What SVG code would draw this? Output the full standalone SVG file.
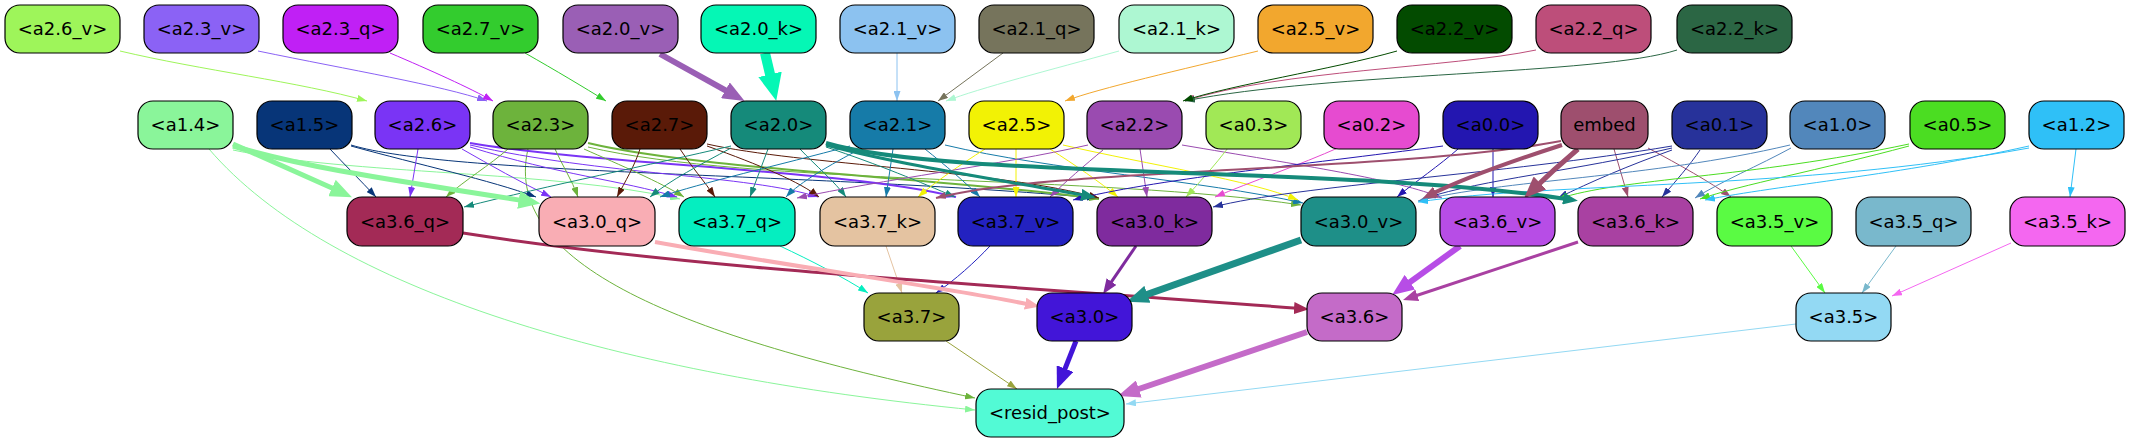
<svg xmlns="http://www.w3.org/2000/svg" width="2131" height="443" viewBox="0 0 2131 443">
<style>
.n rect{stroke:#000;stroke-width:1.2}
.n text{font-family:"DejaVu Sans","Liberation Sans",sans-serif;font-size:18px;text-anchor:middle;fill:#000}
.e path{fill:none}
</style>
<defs>
<marker id="s-a26v" viewBox="0 0 10 7" refX="10" refY="3.5" markerWidth="10" markerHeight="7" markerUnits="userSpaceOnUse" orient="auto"><path d="M0,0L10,3.5L0,7z" fill="#9ef55a"/></marker>
<marker id="s-a23v" viewBox="0 0 10 7" refX="10" refY="3.5" markerWidth="10" markerHeight="7" markerUnits="userSpaceOnUse" orient="auto"><path d="M0,0L10,3.5L0,7z" fill="#8b62f5"/></marker>
<marker id="s-a23q" viewBox="0 0 10 7" refX="10" refY="3.5" markerWidth="10" markerHeight="7" markerUnits="userSpaceOnUse" orient="auto"><path d="M0,0L10,3.5L0,7z" fill="#c020f5"/></marker>
<marker id="s-a27v" viewBox="0 0 10 7" refX="10" refY="3.5" markerWidth="10" markerHeight="7" markerUnits="userSpaceOnUse" orient="auto"><path d="M0,0L10,3.5L0,7z" fill="#33cc2e"/></marker>
<marker id="s-a21v" viewBox="0 0 10 7" refX="10" refY="3.5" markerWidth="10" markerHeight="7" markerUnits="userSpaceOnUse" orient="auto"><path d="M0,0L10,3.5L0,7z" fill="#8cc2f0"/></marker>
<marker id="s-a21q" viewBox="0 0 10 7" refX="10" refY="3.5" markerWidth="10" markerHeight="7" markerUnits="userSpaceOnUse" orient="auto"><path d="M0,0L10,3.5L0,7z" fill="#76745c"/></marker>
<marker id="s-a21k" viewBox="0 0 10 7" refX="10" refY="3.5" markerWidth="10" markerHeight="7" markerUnits="userSpaceOnUse" orient="auto"><path d="M0,0L10,3.5L0,7z" fill="#adf7d2"/></marker>
<marker id="s-a25v" viewBox="0 0 10 7" refX="10" refY="3.5" markerWidth="10" markerHeight="7" markerUnits="userSpaceOnUse" orient="auto"><path d="M0,0L10,3.5L0,7z" fill="#f2a72e"/></marker>
<marker id="s-a22v" viewBox="0 0 10 7" refX="10" refY="3.5" markerWidth="10" markerHeight="7" markerUnits="userSpaceOnUse" orient="auto"><path d="M0,0L10,3.5L0,7z" fill="#034b00"/></marker>
<marker id="s-a22q" viewBox="0 0 10 7" refX="10" refY="3.5" markerWidth="10" markerHeight="7" markerUnits="userSpaceOnUse" orient="auto"><path d="M0,0L10,3.5L0,7z" fill="#bd4e7a"/></marker>
<marker id="s-a22k" viewBox="0 0 10 7" refX="10" refY="3.5" markerWidth="10" markerHeight="7" markerUnits="userSpaceOnUse" orient="auto"><path d="M0,0L10,3.5L0,7z" fill="#2b6644"/></marker>
<marker id="s-a14" viewBox="0 0 10 7" refX="10" refY="3.5" markerWidth="10" markerHeight="7" markerUnits="userSpaceOnUse" orient="auto"><path d="M0,0L10,3.5L0,7z" fill="#8af59a"/></marker>
<marker id="s-a15" viewBox="0 0 10 7" refX="10" refY="3.5" markerWidth="10" markerHeight="7" markerUnits="userSpaceOnUse" orient="auto"><path d="M0,0L10,3.5L0,7z" fill="#073578"/></marker>
<marker id="s-a26" viewBox="0 0 10 7" refX="10" refY="3.5" markerWidth="10" markerHeight="7" markerUnits="userSpaceOnUse" orient="auto"><path d="M0,0L10,3.5L0,7z" fill="#7a34f5"/></marker>
<marker id="s-a23" viewBox="0 0 10 7" refX="10" refY="3.5" markerWidth="10" markerHeight="7" markerUnits="userSpaceOnUse" orient="auto"><path d="M0,0L10,3.5L0,7z" fill="#6db33c"/></marker>
<marker id="s-a27" viewBox="0 0 10 7" refX="10" refY="3.5" markerWidth="10" markerHeight="7" markerUnits="userSpaceOnUse" orient="auto"><path d="M0,0L10,3.5L0,7z" fill="#5a1a08"/></marker>
<marker id="s-a20" viewBox="0 0 10 7" refX="10" refY="3.5" markerWidth="10" markerHeight="7" markerUnits="userSpaceOnUse" orient="auto"><path d="M0,0L10,3.5L0,7z" fill="#158a7a"/></marker>
<marker id="s-a21" viewBox="0 0 10 7" refX="10" refY="3.5" markerWidth="10" markerHeight="7" markerUnits="userSpaceOnUse" orient="auto"><path d="M0,0L10,3.5L0,7z" fill="#167ba8"/></marker>
<marker id="s-a25" viewBox="0 0 10 7" refX="10" refY="3.5" markerWidth="10" markerHeight="7" markerUnits="userSpaceOnUse" orient="auto"><path d="M0,0L10,3.5L0,7z" fill="#f2f205"/></marker>
<marker id="s-a22" viewBox="0 0 10 7" refX="10" refY="3.5" markerWidth="10" markerHeight="7" markerUnits="userSpaceOnUse" orient="auto"><path d="M0,0L10,3.5L0,7z" fill="#9a4bb0"/></marker>
<marker id="s-a03" viewBox="0 0 10 7" refX="10" refY="3.5" markerWidth="10" markerHeight="7" markerUnits="userSpaceOnUse" orient="auto"><path d="M0,0L10,3.5L0,7z" fill="#a1e856"/></marker>
<marker id="s-a02" viewBox="0 0 10 7" refX="10" refY="3.5" markerWidth="10" markerHeight="7" markerUnits="userSpaceOnUse" orient="auto"><path d="M0,0L10,3.5L0,7z" fill="#e64bd0"/></marker>
<marker id="s-a00" viewBox="0 0 10 7" refX="10" refY="3.5" markerWidth="10" markerHeight="7" markerUnits="userSpaceOnUse" orient="auto"><path d="M0,0L10,3.5L0,7z" fill="#2316b0"/></marker>
<marker id="s-em" viewBox="0 0 10 7" refX="10" refY="3.5" markerWidth="10" markerHeight="7" markerUnits="userSpaceOnUse" orient="auto"><path d="M0,0L10,3.5L0,7z" fill="#9e4f6e"/></marker>
<marker id="s-a01" viewBox="0 0 10 7" refX="10" refY="3.5" markerWidth="10" markerHeight="7" markerUnits="userSpaceOnUse" orient="auto"><path d="M0,0L10,3.5L0,7z" fill="#27329a"/></marker>
<marker id="s-a10" viewBox="0 0 10 7" refX="10" refY="3.5" markerWidth="10" markerHeight="7" markerUnits="userSpaceOnUse" orient="auto"><path d="M0,0L10,3.5L0,7z" fill="#5287bb"/></marker>
<marker id="s-a05" viewBox="0 0 10 7" refX="10" refY="3.5" markerWidth="10" markerHeight="7" markerUnits="userSpaceOnUse" orient="auto"><path d="M0,0L10,3.5L0,7z" fill="#4bdd22"/></marker>
<marker id="s-a12" viewBox="0 0 10 7" refX="10" refY="3.5" markerWidth="10" markerHeight="7" markerUnits="userSpaceOnUse" orient="auto"><path d="M0,0L10,3.5L0,7z" fill="#2fc0f7"/></marker>
<marker id="s-a37q" viewBox="0 0 10 7" refX="10" refY="3.5" markerWidth="10" markerHeight="7" markerUnits="userSpaceOnUse" orient="auto"><path d="M0,0L10,3.5L0,7z" fill="#05eec0"/></marker>
<marker id="s-a37k" viewBox="0 0 10 7" refX="10" refY="3.5" markerWidth="10" markerHeight="7" markerUnits="userSpaceOnUse" orient="auto"><path d="M0,0L10,3.5L0,7z" fill="#e4c3a1"/></marker>
<marker id="s-a37v" viewBox="0 0 10 7" refX="10" refY="3.5" markerWidth="10" markerHeight="7" markerUnits="userSpaceOnUse" orient="auto"><path d="M0,0L10,3.5L0,7z" fill="#2322c0"/></marker>
<marker id="s-a35v" viewBox="0 0 10 7" refX="10" refY="3.5" markerWidth="10" markerHeight="7" markerUnits="userSpaceOnUse" orient="auto"><path d="M0,0L10,3.5L0,7z" fill="#5afb43"/></marker>
<marker id="s-a35q" viewBox="0 0 10 7" refX="10" refY="3.5" markerWidth="10" markerHeight="7" markerUnits="userSpaceOnUse" orient="auto"><path d="M0,0L10,3.5L0,7z" fill="#79b8cc"/></marker>
<marker id="s-a35k" viewBox="0 0 10 7" refX="10" refY="3.5" markerWidth="10" markerHeight="7" markerUnits="userSpaceOnUse" orient="auto"><path d="M0,0L10,3.5L0,7z" fill="#f467f0"/></marker>
<marker id="s-a37" viewBox="0 0 10 7" refX="10" refY="3.5" markerWidth="10" markerHeight="7" markerUnits="userSpaceOnUse" orient="auto"><path d="M0,0L10,3.5L0,7z" fill="#99a33c"/></marker>
<marker id="s-a35" viewBox="0 0 10 7" refX="10" refY="3.5" markerWidth="10" markerHeight="7" markerUnits="userSpaceOnUse" orient="auto"><path d="M0,0L10,3.5L0,7z" fill="#93d9f3"/></marker>
<marker id="m-a20" viewBox="0 0 15 12" refX="7" refY="6" markerWidth="15" markerHeight="12" markerUnits="userSpaceOnUse" orient="auto"><path d="M0,0L15,6L0,12z" fill="#158a7a"/></marker>
<marker id="m-em" viewBox="0 0 15 12" refX="7" refY="6" markerWidth="15" markerHeight="12" markerUnits="userSpaceOnUse" orient="auto"><path d="M0,0L15,6L0,12z" fill="#9e4f6e"/></marker>
<marker id="m-a30q" viewBox="0 0 15 12" refX="7" refY="6" markerWidth="15" markerHeight="12" markerUnits="userSpaceOnUse" orient="auto"><path d="M0,0L15,6L0,12z" fill="#f9adb4"/></marker>
<marker id="m-a30k" viewBox="0 0 15 12" refX="7" refY="6" markerWidth="15" markerHeight="12" markerUnits="userSpaceOnUse" orient="auto"><path d="M0,0L15,6L0,12z" fill="#7f2b9e"/></marker>
<marker id="m-a36q" viewBox="0 0 15 12" refX="7" refY="6" markerWidth="15" markerHeight="12" markerUnits="userSpaceOnUse" orient="auto"><path d="M0,0L15,6L0,12z" fill="#a32a56"/></marker>
<marker id="m-a36k" viewBox="0 0 15 12" refX="7" refY="6" markerWidth="15" markerHeight="12" markerUnits="userSpaceOnUse" orient="auto"><path d="M0,0L15,6L0,12z" fill="#a941a2"/></marker>
<marker id="l-a20v" viewBox="0 0 22 18" refX="11" refY="9" markerWidth="22" markerHeight="18" markerUnits="userSpaceOnUse" orient="auto"><path d="M0,0L22,9L0,18z" fill="#9a5fb5"/></marker>
<marker id="l-a14" viewBox="0 0 22 18" refX="11" refY="9" markerWidth="22" markerHeight="18" markerUnits="userSpaceOnUse" orient="auto"><path d="M0,0L22,9L0,18z" fill="#8af59a"/></marker>
<marker id="l-em" viewBox="0 0 22 18" refX="11" refY="9" markerWidth="22" markerHeight="18" markerUnits="userSpaceOnUse" orient="auto"><path d="M0,0L22,9L0,18z" fill="#9e4f6e"/></marker>
<marker id="l-a30v" viewBox="0 0 22 18" refX="11" refY="9" markerWidth="22" markerHeight="18" markerUnits="userSpaceOnUse" orient="auto"><path d="M0,0L22,9L0,18z" fill="#1e8f88"/></marker>
<marker id="l-a36v" viewBox="0 0 22 18" refX="11" refY="9" markerWidth="22" markerHeight="18" markerUnits="userSpaceOnUse" orient="auto"><path d="M0,0L22,9L0,18z" fill="#b74de6"/></marker>
<marker id="l-a30" viewBox="0 0 22 18" refX="11" refY="9" markerWidth="22" markerHeight="18" markerUnits="userSpaceOnUse" orient="auto"><path d="M0,0L22,9L0,18z" fill="#4215d8"/></marker>
<marker id="l-a36" viewBox="0 0 22 18" refX="11" refY="9" markerWidth="22" markerHeight="18" markerUnits="userSpaceOnUse" orient="auto"><path d="M0,0L22,9L0,18z" fill="#c46bc8"/></marker>
<marker id="x-a20k" viewBox="0 0 27 24" refX="13" refY="12" markerWidth="27" markerHeight="24" markerUnits="userSpaceOnUse" orient="auto"><path d="M0,0L27,12L0,24z" fill="#05f7b5"/></marker>
</defs>
<rect width="2131" height="443" fill="#ffffff"/>
<g id="connectors" class="e" stroke-width="1">
<path d="M120,51 C200,70 300,82 367,101" stroke="#9ef55a" marker-end="url(#s-a26v)"/>
<path d="M258,51 C350,70 440,85 487,101" stroke="#8b62f5" marker-end="url(#s-a23v)"/>
<path d="M390,53 C430,70 470,88 493,101" stroke="#c020f5" marker-end="url(#s-a23q)"/>
<path d="M525,53 C555,70 585,88 606,101" stroke="#33cc2e" marker-end="url(#s-a27v)"/>
<path d="M660,54 L735,95.6" stroke="#9a5fb5" stroke-width="6" marker-end="url(#l-a20v)"/>
<path d="M765,53 L773,87" stroke="#05f7b5" stroke-width="10" marker-end="url(#x-a20k)"/>
<path d="M897,53 L897,101" stroke="#8cc2f0" marker-end="url(#s-a21v)"/>
<path d="M1003,53 L938,101" stroke="#76745c" marker-end="url(#s-a21q)"/>
<path d="M1119,51 C1050,70 980,88 946,101" stroke="#adf7d2" marker-end="url(#s-a21k)"/>
<path d="M1258,51 C1180,70 1100,88 1065,101" stroke="#f2a72e" marker-end="url(#s-a25v)"/>
<path d="M1536,50 C1450,68 1280,70 1185,101" stroke="#bd4e7a" marker-end="url(#s-a22q)"/>
<path d="M1677,50 C1600,75 1330,72 1185,101" stroke="#2b6644" marker-end="url(#s-a22k)"/>
<path d="M1397,51 C1330,70 1230,85 1183,101" stroke="#034b00" marker-end="url(#s-a22v)"/>

<path d="M209,149 C330,290 620,375 975,410" stroke="#8af59a" marker-end="url(#s-a14)"/>
<path d="M528,149 C500,270 700,340 975,398" stroke="#6db33c" marker-end="url(#s-a23)"/>
<path d="M233,150 C350,175 550,170 680,199" stroke="#8af59a" marker-end="url(#s-a14)"/>
<path d="M330,149 C345,165 360,180 376,197" stroke="#073578" marker-end="url(#s-a15)"/>
<path d="M351,146 C420,165 490,180 536,197" stroke="#073578" marker-end="url(#s-a15)"/>
<path d="M351,145 C450,175 800,172 1097,198" stroke="#073578" marker-end="url(#s-a15)"/>
<path d="M418,149 L410,197" stroke="#7a34f5" marker-end="url(#s-a26)"/>
<path d="M462,149 C490,165 520,182 551,197" stroke="#7a34f5" marker-end="url(#s-a26)"/>
<path d="M470,147 C560,175 620,180 677,197" stroke="#7a34f5" marker-end="url(#s-a26)"/>
<path d="M470,145 C600,175 750,175 818,197" stroke="#7a34f5" marker-end="url(#s-a26)"/>
<path d="M470,143 C600,165 850,170 956,197" stroke="#7a34f5" stroke-width="2" marker-end="url(#s-a26)"/>
<path d="M508,149 C490,165 465,180 446,197" stroke="#6db33c" marker-end="url(#s-a23)"/>
<path d="M555,149 C562,165 572,180 578,197" stroke="#6db33c" marker-end="url(#s-a23)"/>
<path d="M584,149 C620,165 660,182 684,197" stroke="#6db33c" marker-end="url(#s-a23)"/>
<path d="M588,143 C700,170 950,178 1099,199" stroke="#6db33c" stroke-width="2" marker-end="url(#s-a23)"/>
<path d="M588,147 C750,185 1100,175 1301,205" stroke="#6db33c" marker-end="url(#s-a23)"/>
<path d="M640,149 C635,165 625,182 617,197" stroke="#5a1a08" marker-end="url(#s-a27)"/>
<path d="M680,149 C690,165 705,182 715,197" stroke="#5a1a08" marker-end="url(#s-a27)"/>
<path d="M707,146 C760,165 800,182 819,197" stroke="#5a1a08" marker-end="url(#s-a27)"/>
<path d="M707,144 C800,165 1000,170 1099,198" stroke="#5a1a08" marker-end="url(#s-a27)"/>
<path d="M731,146 C650,165 550,185 464,207" stroke="#158a7a" marker-end="url(#s-a20)"/>
<path d="M731,148 C700,165 670,180 650,197" stroke="#158a7a" marker-end="url(#s-a20)"/>
<path d="M768,149 L750,197" stroke="#158a7a" marker-end="url(#s-a20)"/>
<path d="M800,149 C815,165 835,182 846,197" stroke="#158a7a" marker-end="url(#s-a20)"/>
<path d="M826,147 C880,165 920,182 955,197" stroke="#158a7a" marker-end="url(#s-a20)"/>
<path d="M850,146 C780,165 700,183 660,197" stroke="#167ba8" marker-end="url(#s-a21)"/>
<path d="M860,149 C830,165 800,182 786,197" stroke="#167ba8" marker-end="url(#s-a21)"/>
<path d="M893,149 L886,197" stroke="#167ba8" marker-end="url(#s-a21)"/>
<path d="M925,149 C945,165 965,182 980,197" stroke="#167ba8" marker-end="url(#s-a21)"/>
<path d="M945,145 C1050,170 1200,180 1303,203" stroke="#167ba8" marker-end="url(#s-a21)"/>
<path d="M985,149 C960,165 935,182 918,197" stroke="#f2f205" marker-end="url(#s-a25)"/>
<path d="M1016,149 L1016,197" stroke="#f2f205" marker-end="url(#s-a25)"/>
<path d="M1050,149 C1075,165 1100,182 1118,197" stroke="#f2f205" marker-end="url(#s-a25)"/>
<path d="M1063,145 C1150,165 1250,180 1298,200" stroke="#f2f205" marker-end="url(#s-a25)"/>
<path d="M1088,145 C1000,165 880,180 797,198" stroke="#9a4bb0" marker-end="url(#s-a22)"/>
<path d="M1103,150 C1085,165 1065,182 1050,197" stroke="#9a4bb0" marker-end="url(#s-a22)"/>
<path d="M1140,149 L1147,197" stroke="#9a4bb0" marker-end="url(#s-a22)"/>
<path d="M1182,145 C1300,165 1400,180 1442,198" stroke="#9a4bb0" marker-end="url(#s-a22)"/>
<path d="M1228,148 C1215,165 1200,182 1186,197" stroke="#a1e856" marker-end="url(#s-a03)"/>
<path d="M1340,147 C1300,165 1250,182 1215,197" stroke="#e64bd0" marker-end="url(#s-a02)"/>
<path d="M1443,146 C1300,165 1150,180 1073,200" stroke="#2316b0" marker-end="url(#s-a00)"/>
<path d="M1458,149 C1440,165 1415,182 1397,197" stroke="#2316b0" marker-end="url(#s-a00)"/>
<path d="M1493,149 L1493,197" stroke="#2316b0" marker-end="url(#s-a00)"/>
<path d="M1614,149 L1628,197" stroke="#9e4f6e" marker-end="url(#s-em)"/>
<path d="M1648,148 C1680,165 1710,182 1731,197" stroke="#9e4f6e" marker-end="url(#s-em)"/>
<path d="M1561,141 C1400,172 1050,168 936,198" stroke="#9e4f6e" stroke-width="2" marker-end="url(#s-em)"/>
<path d="M1672,146 C1500,175 1300,185 1213,207" stroke="#27329a" marker-end="url(#s-a01)"/>
<path d="M1672,148 C1580,170 1480,180 1426,198" stroke="#27329a" marker-end="url(#s-a01)"/>
<path d="M1672,150 C1630,165 1590,182 1558,198" stroke="#27329a" marker-end="url(#s-a01)"/>
<path d="M1700,150 C1690,165 1675,182 1662,197" stroke="#27329a" marker-end="url(#s-a01)"/>
<path d="M1791,148 C1760,165 1720,182 1695,198" stroke="#5287bb" marker-end="url(#s-a10)"/>
<path d="M1790,145 C1650,178 1500,180 1418,201" stroke="#5287bb" marker-end="url(#s-a10)"/>
<path d="M1909,146 C1820,170 1740,185 1700,199" stroke="#4bdd22" marker-end="url(#s-a05)"/>
<path d="M1909,144 C1750,178 1620,178 1558,199" stroke="#4bdd22" marker-end="url(#s-a05)"/>
<path d="M2076,149 L2070,197" stroke="#2fc0f7" marker-end="url(#s-a12)"/>
<path d="M2029,146 C1900,175 1780,185 1705,200" stroke="#2fc0f7" marker-end="url(#s-a12)"/>
<path d="M2029,148 C1800,190 1550,182 1418,202" stroke="#2fc0f7" marker-end="url(#s-a12)"/>
<path d="M826,145 C900,165 1000,180 1088,196" stroke="#158a7a" stroke-width="3" marker-end="url(#m-a20)"/>
<path d="M826,143 C950,180 1350,165 1570,199.6" stroke="#158a7a" stroke-width="4" marker-end="url(#m-a20)"/>
<path d="M1562,145 C1500,165 1460,180 1429.5,195.2" stroke="#9e4f6e" stroke-width="4" marker-end="url(#m-em)"/>
<path d="M1578,149 C1565,160 1545,178 1532,190.6" stroke="#9e4f6e" stroke-width="5" marker-end="url(#l-em)"/>
<path d="M233,144 C280,165 310,178 342,192.6" stroke="#8af59a" stroke-width="5" marker-end="url(#l-a14)"/>
<path d="M233,146 C320,172 430,185 529.5,201.7" stroke="#8af59a" stroke-width="5" marker-end="url(#l-a14)"/>

<path d="M780,246 C810,260 845,278 868,293" stroke="#05eec0" marker-end="url(#s-a37q)"/>
<path d="M886,246 L902,293" stroke="#e4c3a1" marker-end="url(#s-a37k)"/>
<path d="M990,246 C975,262 955,280 936,293" stroke="#2322c0" marker-end="url(#s-a37v)"/>
<path d="M463,233 C700,270 1000,285 1301,308.6" stroke="#a32a56" stroke-width="3" marker-end="url(#m-a36q)"/>
<path d="M655,242 C800,268 950,288 1032,305" stroke="#f9adb4" stroke-width="4" marker-end="url(#m-a30q)"/>
<path d="M1136,246 L1107.6,287.4" stroke="#7f2b9e" stroke-width="3" marker-end="url(#m-a30k)"/>
<path d="M1301,240 L1137,298" stroke="#1e8f88" stroke-width="7" marker-end="url(#l-a30v)"/>
<path d="M1460,246 L1401,288.6" stroke="#b74de6" stroke-width="6" marker-end="url(#l-a36v)"/>
<path d="M1578,242 L1410.6,297.5" stroke="#a941a2" stroke-width="3" marker-end="url(#m-a36k)"/>
<path d="M1791,246 L1825,293" stroke="#5afb43" marker-end="url(#s-a35v)"/>
<path d="M1896,246 L1862,293" stroke="#79b8cc" marker-end="url(#s-a35q)"/>
<path d="M2011,243 L1892,296" stroke="#f467f0" marker-end="url(#s-a35k)"/>
<path d="M946,341 L1017,389" stroke="#99a33c" marker-end="url(#s-a37)"/>
<path d="M1076,341 L1061,378.8" stroke="#4215d8" stroke-width="5" marker-end="url(#l-a30)"/>
<path d="M1307,332 L1128.4,392.5" stroke="#c46bc8" stroke-width="6" marker-end="url(#l-a36)"/>
<path d="M1796,324 L1126,404" stroke="#93d9f3" marker-end="url(#s-a35)"/>
</g>
<g id="nodes">
<g id="n-a2.6_v" class="n"><rect x="5" y="5" width="115" height="48" rx="15" fill="#9ef55a"/><text x="62.5" y="35">&lt;a2.6_v&gt;</text></g>
<g id="n-a2.3_v" class="n"><rect x="144" y="5" width="115" height="48" rx="15" fill="#8b62f5"/><text x="201.5" y="35">&lt;a2.3_v&gt;</text></g>
<g id="n-a2.3_q" class="n"><rect x="283" y="5" width="115" height="48" rx="15" fill="#c020f5"/><text x="340.5" y="35">&lt;a2.3_q&gt;</text></g>
<g id="n-a2.7_v" class="n"><rect x="423" y="5" width="115" height="48" rx="15" fill="#33cc2e"/><text x="480.5" y="35">&lt;a2.7_v&gt;</text></g>
<g id="n-a2.0_v" class="n"><rect x="563" y="5" width="115" height="48" rx="15" fill="#9a5fb5"/><text x="620.5" y="35">&lt;a2.0_v&gt;</text></g>
<g id="n-a2.0_k" class="n"><rect x="701" y="5" width="115" height="48" rx="15" fill="#05f7b5"/><text x="758.5" y="35">&lt;a2.0_k&gt;</text></g>
<g id="n-a2.1_v" class="n"><rect x="840" y="5" width="115" height="48" rx="15" fill="#8cc2f0"/><text x="897.5" y="35">&lt;a2.1_v&gt;</text></g>
<g id="n-a2.1_q" class="n"><rect x="979" y="5" width="115" height="48" rx="15" fill="#76745c"/><text x="1036.5" y="35">&lt;a2.1_q&gt;</text></g>
<g id="n-a2.1_k" class="n"><rect x="1119" y="5" width="115" height="48" rx="15" fill="#adf7d2"/><text x="1176.5" y="35">&lt;a2.1_k&gt;</text></g>
<g id="n-a2.5_v" class="n"><rect x="1258" y="5" width="115" height="48" rx="15" fill="#f2a72e"/><text x="1315.5" y="35">&lt;a2.5_v&gt;</text></g>
<g id="n-a2.2_v" class="n"><rect x="1397" y="5" width="115" height="48" rx="15" fill="#034b00"/><text x="1454.5" y="35">&lt;a2.2_v&gt;</text></g>
<g id="n-a2.2_q" class="n"><rect x="1536" y="5" width="115" height="48" rx="15" fill="#bd4e7a"/><text x="1593.5" y="35">&lt;a2.2_q&gt;</text></g>
<g id="n-a2.2_k" class="n"><rect x="1677" y="5" width="115" height="48" rx="15" fill="#2b6644"/><text x="1734.5" y="35">&lt;a2.2_k&gt;</text></g>

<g id="n-a1.4" class="n"><rect x="138" y="101" width="95" height="48" rx="15" fill="#8af59a"/><text x="185.5" y="131">&lt;a1.4&gt;</text></g>
<g id="n-a1.5" class="n"><rect x="257" y="101" width="95" height="48" rx="15" fill="#073578"/><text x="304.5" y="131">&lt;a1.5&gt;</text></g>
<g id="n-a2.6" class="n"><rect x="375" y="101" width="95" height="48" rx="15" fill="#7a34f5"/><text x="422.5" y="131">&lt;a2.6&gt;</text></g>
<g id="n-a2.3" class="n"><rect x="493" y="101" width="95" height="48" rx="15" fill="#6db33c"/><text x="540.5" y="131">&lt;a2.3&gt;</text></g>
<g id="n-a2.7" class="n"><rect x="612" y="101" width="95" height="48" rx="15" fill="#5a1a08"/><text x="659.5" y="131">&lt;a2.7&gt;</text></g>
<g id="n-a2.0" class="n"><rect x="731" y="101" width="95" height="48" rx="15" fill="#158a7a"/><text x="778.5" y="131">&lt;a2.0&gt;</text></g>
<g id="n-a2.1" class="n"><rect x="850" y="101" width="95" height="48" rx="15" fill="#167ba8"/><text x="897.5" y="131">&lt;a2.1&gt;</text></g>
<g id="n-a2.5" class="n"><rect x="969" y="101" width="95" height="48" rx="15" fill="#f2f205"/><text x="1016.5" y="131">&lt;a2.5&gt;</text></g>
<g id="n-a2.2" class="n"><rect x="1087" y="101" width="95" height="48" rx="15" fill="#9a4bb0"/><text x="1134.5" y="131">&lt;a2.2&gt;</text></g>
<g id="n-a0.3" class="n"><rect x="1206" y="101" width="95" height="48" rx="15" fill="#a1e856"/><text x="1253.5" y="131">&lt;a0.3&gt;</text></g>
<g id="n-a0.2" class="n"><rect x="1324" y="101" width="95" height="48" rx="15" fill="#e64bd0"/><text x="1371.5" y="131">&lt;a0.2&gt;</text></g>
<g id="n-a0.0" class="n"><rect x="1443" y="101" width="95" height="48" rx="15" fill="#2316b0"/><text x="1490.5" y="131">&lt;a0.0&gt;</text></g>
<g id="n-embed" class="n"><rect x="1561" y="101" width="87" height="48" rx="15" fill="#9e4f6e"/><text x="1604.5" y="131">embed</text></g>
<g id="n-a0.1" class="n"><rect x="1672" y="101" width="95" height="48" rx="15" fill="#27329a"/><text x="1719.5" y="131">&lt;a0.1&gt;</text></g>
<g id="n-a1.0" class="n"><rect x="1790" y="101" width="95" height="48" rx="15" fill="#5287bb"/><text x="1837.5" y="131">&lt;a1.0&gt;</text></g>
<g id="n-a0.5" class="n"><rect x="1910" y="101" width="95" height="48" rx="15" fill="#4bdd22"/><text x="1957.5" y="131">&lt;a0.5&gt;</text></g>
<g id="n-a1.2" class="n"><rect x="2029" y="101" width="95" height="48" rx="15" fill="#2fc0f7"/><text x="2076.5" y="131">&lt;a1.2&gt;</text></g>

<g id="n-a3.6_q" class="n"><rect x="347" y="197" width="116" height="49" rx="15" fill="#a32a56"/><text x="405" y="228">&lt;a3.6_q&gt;</text></g>
<g id="n-a3.0_q" class="n"><rect x="539" y="197" width="116" height="49" rx="15" fill="#f9adb4"/><text x="597" y="228">&lt;a3.0_q&gt;</text></g>
<g id="n-a3.7_q" class="n"><rect x="679" y="197" width="116" height="49" rx="15" fill="#05eec0"/><text x="737" y="228">&lt;a3.7_q&gt;</text></g>
<g id="n-a3.7_k" class="n"><rect x="820" y="197" width="115" height="49" rx="15" fill="#e4c3a1"/><text x="877.5" y="228">&lt;a3.7_k&gt;</text></g>
<g id="n-a3.7_v" class="n"><rect x="958" y="197" width="115" height="49" rx="15" fill="#2322c0"/><text x="1015.5" y="228">&lt;a3.7_v&gt;</text></g>
<g id="n-a3.0_k" class="n"><rect x="1097" y="197" width="115" height="49" rx="15" fill="#7f2b9e"/><text x="1154.5" y="228">&lt;a3.0_k&gt;</text></g>
<g id="n-a3.0_v" class="n"><rect x="1301" y="197" width="115" height="49" rx="15" fill="#1e8f88"/><text x="1358.5" y="228">&lt;a3.0_v&gt;</text></g>
<g id="n-a3.6_v" class="n"><rect x="1440" y="197" width="115" height="49" rx="15" fill="#b74de6"/><text x="1497.5" y="228">&lt;a3.6_v&gt;</text></g>
<g id="n-a3.6_k" class="n"><rect x="1578" y="197" width="115" height="49" rx="15" fill="#a941a2"/><text x="1635.5" y="228">&lt;a3.6_k&gt;</text></g>
<g id="n-a3.5_v" class="n"><rect x="1717" y="197" width="115" height="49" rx="15" fill="#5afb43"/><text x="1774.5" y="228">&lt;a3.5_v&gt;</text></g>
<g id="n-a3.5_q" class="n"><rect x="1856" y="197" width="115" height="49" rx="15" fill="#79b8cc"/><text x="1913.5" y="228">&lt;a3.5_q&gt;</text></g>
<g id="n-a3.5_k" class="n"><rect x="2010" y="197" width="115" height="49" rx="15" fill="#f467f0"/><text x="2067.5" y="228">&lt;a3.5_k&gt;</text></g>

<g id="n-a3.7" class="n"><rect x="864" y="293" width="95" height="48" rx="15" fill="#99a33c"/><text x="911.5" y="323">&lt;a3.7&gt;</text></g>
<g id="n-a3.0" class="n"><rect x="1037" y="293" width="95" height="48" rx="15" fill="#4215d8"/><text x="1084.5" y="323">&lt;a3.0&gt;</text></g>
<g id="n-a3.6" class="n"><rect x="1307" y="293" width="95" height="48" rx="15" fill="#c46bc8"/><text x="1354.5" y="323">&lt;a3.6&gt;</text></g>
<g id="n-a3.5" class="n"><rect x="1796" y="293" width="95" height="48" rx="15" fill="#93d9f3"/><text x="1843.5" y="323">&lt;a3.5&gt;</text></g>

<g id="n-resid_post" class="n"><rect x="976" y="389" width="148" height="48" rx="15" fill="#52fad5"/><text x="1050" y="419">&lt;resid_post&gt;</text></g>
</g>
</svg>
